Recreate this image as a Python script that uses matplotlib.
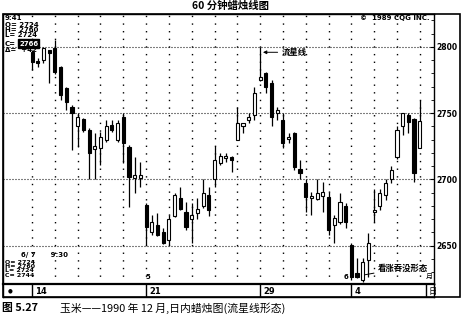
import matplotlib
matplotlib.use("Agg")
import matplotlib.pyplot as plt
import numpy as np
from matplotlib.patches import Rectangle

plt.rcParams['font.family'] = ['Noto Sans CJK SC', 'DejaVu Sans']

# hourly bars, corn, Dec 1990
opens = [2796, 2788.5, 2790, 2798, 2799, 2785, 2769, 2755, 2740, 2746,
         2737.5, 2723, 2724, 2730, 2741, 2730, 2747, 2724.5, 2701, 2701,
         2681, 2660, 2666, 2660, 2654.5, 2672.5, 2686, 2675.5, 2670, 2675,
         2680, 2688, 2700, 2712.5, 2716, 2717, 2730, 2740, 2745, 2749,
         2775, 2780, 2773, 2750, 2745, 2730.5, 2735, 2708, 2697, 2686,
         2685, 2687.5, 2687, 2665.5, 2668, 2680, 2650.5, 2629.5, 2624, 2639,
         2675.5, 2680, 2688, 2700, 2717, 2740, 2748.5, 2746, 2724]
highs = [2798, 2792, 2800, 2798, 2805, 2785.5, 2770, 2756, 2750, 2746.5,
         2739, 2735, 2736, 2745, 2745, 2745, 2750, 2726, 2717, 2713,
         2682, 2673, 2675, 2663.5, 2673, 2690, 2694, 2683, 2682, 2686,
         2700, 2694, 2725, 2720, 2720, 2717.5, 2755, 2743, 2750, 2770,
         2800, 2781, 2775, 2755, 2750, 2735, 2736, 2714.5, 2700, 2690.5,
         2700, 2698, 2690.5, 2673, 2690, 2682, 2652, 2641, 2641, 2659.5,
         2693, 2693, 2700, 2710, 2740, 2750, 2750, 2746.5, 2760]
lows = [2783, 2785, 2788, 2773, 2779.5, 2760, 2752.5, 2722, 2724.5, 2736,
        2700.5, 2700.5, 2711, 2728, 2736, 2728, 2712.5, 2679, 2690, 2694,
        2650.5, 2658, 2657, 2651, 2650.5, 2672, 2677, 2662, 2652, 2670,
        2678.5, 2672.5, 2694, 2711, 2713, 2705.5, 2730, 2735, 2743, 2745,
        2774, 2765, 2740, 2745, 2724, 2727.5, 2707, 2700.5, 2675.5, 2673,
        2684.5, 2675.5, 2658, 2652, 2666.5, 2663.5, 2624, 2626, 2622.5, 2626.5,
        2668, 2677, 2684.5, 2697.5, 2715.5, 2733.5, 2735, 2698, 2724]
closes = [2789, 2788, 2799, 2795.5, 2781, 2764, 2758.5, 2750, 2747, 2737.5,
          2720, 2725, 2732, 2740, 2737, 2743, 2727.5, 2702, 2703, 2703,
          2664, 2668, 2658, 2652, 2670, 2688, 2678, 2664, 2673, 2678,
          2690, 2677, 2715, 2718, 2718, 2715, 2743, 2743, 2747, 2765,
          2777, 2770, 2747, 2752.5, 2727.5, 2732, 2709.5, 2705, 2687, 2687.5,
          2690, 2690.5, 2662, 2671, 2683, 2668, 2626.5, 2626.5, 2638, 2652,
          2677, 2690, 2697, 2707, 2737.5, 2750, 2743.5, 2705, 2744]

price_ticks = [2650, 2700, 2750, 2800]
date_bars = [0, 20, 40, 56]
date_labels = ['14', '21', '29', '4']
bars_per_day = 4

W, H = 462, 319


def fx(px):
    return px / W


def fy(py):
    return 1 - py / H


fig = plt.figure(figsize=(W / 100, H / 100), dpi=100)

# outer frame
fig.patches.append(Rectangle((fx(3), fy(297)), fx(460) - fx(3), fy(14) - fy(297),
                             transform=fig.transFigure, fill=False, lw=1.2, color='black'))

ax = fig.add_axes([fx(3), fy(284), fx(434) - fx(3), fy(14) - fy(284)])
n = len(opens)
x = np.arange(n)
o = np.array(opens)
c = np.array(closes)

ax.set_xlim(-5.1, 70.5)
ax.set_ylim(2621.1, 2824.9)

# grid
for p in price_ticks:
    ax.axhline(p, color='black', lw=0.8, ls=(0, (0.9, 1.8)), zorder=1)
for b in range(0, n, bars_per_day):
    ax.axvline(b, color='black', lw=1.0, ls=(0, (1.0, 4.5)), zorder=1)

# candles
ax.vlines(x, lows, highs, color='black', lw=0.9, zorder=2)
bottoms = np.minimum(o, c)
heights = np.maximum(np.abs(c - o), 1.6)
faces = ['black' if cl < op else 'white' for op, cl in zip(o, c)]
ax.bar(x, heights, bottom=bottoms, width=0.55, color=faces,
       edgecolor='black', lw=0.8, zorder=3)

ax.set_xticks([])
ax.yaxis.tick_right()
ax.set_yticks(price_ticks)
ax.set_yticklabels([str(p) for p in price_ticks], fontsize=5.5, fontweight='bold',
                   family='DejaVu Sans')
ax.set_yticks(np.arange(2630, 2825, 10), minor=True)
ax.tick_params(axis='y', which='major', length=3, direction='in', pad=2)
ax.tick_params(axis='y', which='minor', length=2, direction='in', right=True)
for s in ax.spines.values():
    s.set_linewidth(1.0)

# annotations
ax.annotate('流星线', xy=(40.5, 2796), xytext=(43.8, 2796), fontsize=6,
            fontweight='bold', va='center', ha='left',
            arrowprops=dict(arrowstyle='-|>', lw=0.7, color='black',
                            mutation_scale=5, shrinkA=1, shrinkB=0))
ax.annotate('看涨吞没形态', xy=(58.3, 2628), xytext=(60.7, 2633.3), fontsize=6,
            fontweight='bold', va='center', ha='left',
            arrowprops=dict(arrowstyle='-', lw=0.7, color='black',
                            shrinkA=1, shrinkB=0))

# bottom date strip
strip = fig.add_axes([fx(3), fy(297), fx(434) - fx(3), fy(284) - fy(297)])
strip.set_xlim(ax.get_xlim())
strip.set_ylim(0, 1)
strip.set_xticks([])
strip.set_yticks([])
for s in strip.spines.values():
    s.set_linewidth(1.0)
strip.spines['top'].set_linewidth(1.6)
for b, lab in zip(date_bars, date_labels):
    strip.axvline(b, color='black', lw=1.0)
    strip.text(b + 0.5, 0.45, lab, fontsize=6, fontweight='bold', va='center',
               family='DejaVu Sans')
strip.axvline(69.1, color='black', lw=1.0)
strip.text(69.6, 0.45, '日', fontsize=6, va='center')
strip.text(-4.3, 0.45, '●', fontsize=4, va='center', family='DejaVu Sans')


def ftext(px, py, s, **kw):
    kw.setdefault('fontsize', 5)
    kw.setdefault('family', 'DejaVu Sans')
    kw.setdefault('fontweight', 'bold')
    fig.text(fx(px), fy(py), s, va='center', ha='left', **kw)


# cursor read-outs
ftext(5, 17.5, '9:41')
ftext(5, 25, 'O= 2724')
ftext(5, 30, 'H= 2760')
ftext(5, 35, 'L= 2724')
ftext(5, 43.5, 'C=')
ftext(19, 43.5, '2766', color='white',
      bbox=dict(boxstyle='square,pad=0.15', fc='black', ec='black'))
ftext(5, 50, 'Δ=  +42')
ftext(21, 255, '6/ 7      9:30')
ftext(5, 262, 'O= 2724', fontsize=4.5)
ftext(5, 266.5, 'H= 2760', fontsize=4.5)
ftext(5, 271, 'L= 2724', fontsize=4.5)
ftext(5, 275.5, 'C= 2744', fontsize=4.5)
ftext(146, 277, '5')
ftext(344, 277, '6')
ftext(426, 277, '月', family=['Noto Sans CJK SC'], fontweight='normal')
ftext(360, 18, '©  1989 CQG INC.', fontsize=5)

fig.text(0.5, fy(6), '60 分钟蜡烛线图', ha='center', va='center',
         fontsize=7.5, fontweight='bold')
fig.text(fx(2), fy(308), '图 5.27', ha='left', va='center', fontsize=7.8,
         fontweight='bold')
fig.text(fx(60), fy(308), '玉米——1990 年 12 月,日内蜡烛图(流星线形态)', ha='left',
         va='center', fontsize=7.8)

fig.savefig('out.png', dpi=100)
